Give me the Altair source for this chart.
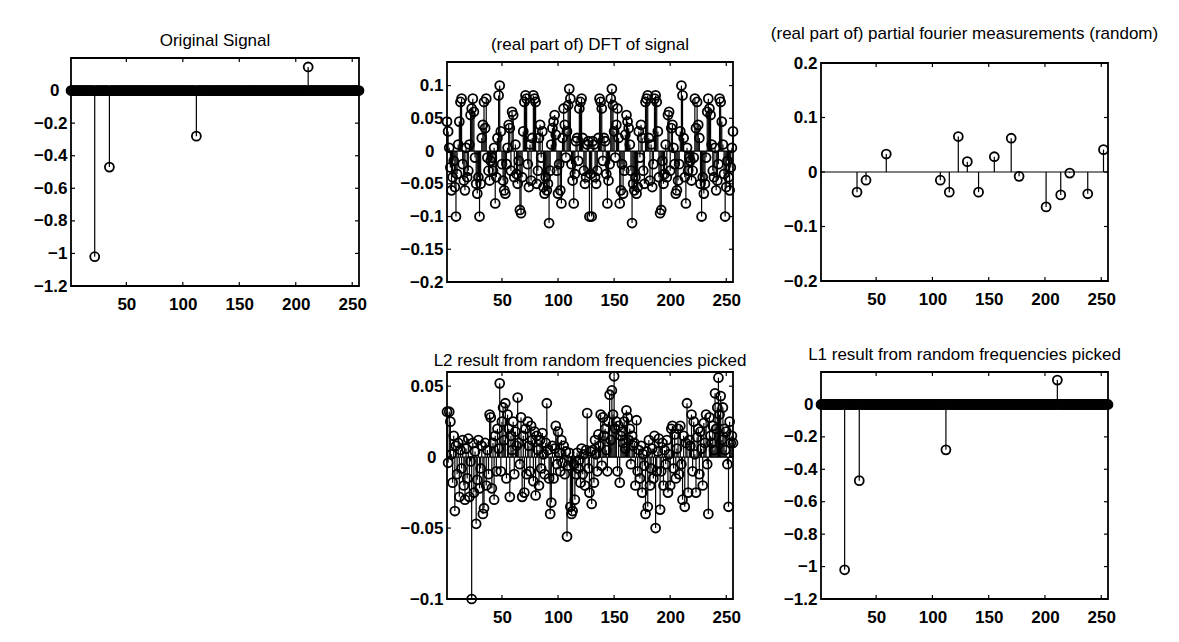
import altair as alt
import pandas as pd

# ---------------- data ----------------
x_ticks = [50, 100, 150, 200, 250]

# original signal / L1 recovery: sparse spikes, zero elsewhere (n = 1..256)
spike_pos = [22, 35, 112, 211]
orig_vals = [-1.02, -0.47, -0.28, 0.145]
l1_vals = [-1.02, -0.47, -0.28, 0.15]

# real part of DFT, x = 1..129
dft_first = [
    0.045, 0.03, 0.005, -0.025, -0.06, -0.04, -0.015, -0.055, -0.1, -0.035, 0.01, 0.045, 0.075, 0.08, -0.02, -0.045,
    -0.06, 0.005, -0.04, -0.03, 0.01, 0.055, 0.065, 0.08, 0.06, -0.01, -0.05, -0.065, -0.04, -0.1, -0.05, 0.02,
    0.04, 0.075, 0.035, 0.08, -0.01, -0.03, -0.045, -0.015, -0.01, -0.03, 0.005, -0.08, -0.04, 0.02, 0.085, 0.1,
    0.03, -0.02, -0.045, -0.06, -0.065, -0.02, 0.005, 0.04, 0.035, -0.03, 0.06, 0.055, -0.04, 0.01, -0.035, -0.05,
    -0.015, -0.09, -0.095, -0.04, 0.03, 0.075, 0.085, 0.08, -0.02, -0.055, 0.01, -0.045, 0.02, 0.085, 0.08, 0.075,
    -0.05, -0.03, 0.02, 0.04, -0.01, 0.03, -0.055, -0.065, -0.04, -0.06, -0.05, -0.11, -0.03, 0.01, 0.035, 0.045,
    0.055, 0.025, -0.03, -0.065, -0.02, -0.06, -0.08, 0.02, 0.065, 0.04, -0.01, 0.03, 0.07, 0.095, 0.08, -0.02,
    -0.045, -0.08, -0.035, 0.015, 0.02, -0.015, 0.065, 0.075, 0.08, 0.02, -0.03, -0.05, -0.04, 0.01, 0.015, -0.1,
    -0.035,
]
# real part of DFT, x = 130..256 (mirror image in the picture)
dft_second = [
    -0.1, 0.015, 0.01, -0.04, -0.05, -0.03, 0.02, 0.08, 0.075, 0.065, -0.015, 0.02, 0.015, -0.035, -0.08, -0.045,
    -0.02, 0.08, 0.095, 0.07, 0.03, -0.01, 0.04, 0.065, 0.02, -0.08, -0.06, -0.02, -0.065, -0.03, 0.025, 0.055,
    0.045, 0.035, 0.01, -0.03, -0.11, -0.05, -0.06, -0.04, -0.065, -0.055, 0.03, -0.01, 0.04, 0.02, -0.03, -0.05,
    0.075, 0.08, 0.085, 0.02, -0.045, 0.01, -0.055, -0.02, 0.08, 0.085, 0.075, 0.03, -0.04, -0.095, -0.09, -0.015,
    -0.05, -0.035, 0.01, -0.04, 0.055, 0.06, -0.03, 0.035, 0.04, 0.005, -0.02, -0.065, -0.06, -0.045, -0.02, 0.03,
    0.1, 0.085, 0.02, -0.04, -0.08, 0.005, -0.03, -0.01, -0.015, -0.045, -0.03, -0.01, 0.08, 0.035, 0.075, 0.04,
    0.02, -0.05, -0.1, -0.04, -0.065, -0.05, -0.01, 0.06, 0.08, 0.065, 0.055, 0.01, -0.03, -0.04, 0.005, -0.06,
    -0.045, -0.02, 0.08, 0.075, 0.045, 0.01, -0.035, -0.1, -0.055, -0.015, -0.04, -0.06, -0.025, 0.005, 0.03,
]

# partial fourier measurements (random frequencies)
meas_pos = [33, 41, 59, 107, 115, 123, 131, 141, 155, 170, 177, 201, 214, 222, 238, 252]
meas_vals = [-0.037, -0.015, 0.033, -0.015, -0.037, 0.065, 0.019, -0.037,
             0.028, 0.062, -0.008, -0.064, -0.042, -0.002, -0.040, 0.041]

# L2 result, x = 1..256
l2_vals = [
    0.032, -0.004, 0.032, 0.025, 0.002, -0.018, 0.015, -0.038, 0.008, -0.012, 0.01, -0.028, 0.005, -0.008, 0.012, -0.02,
    -0.03, 0.006, -0.015, 0.013, -0.028, -0.003, -0.1, 0.01, -0.025, 0.004, -0.047, -0.016, 0.012, -0.022, -0.008, 0.008,
    -0.04, -0.036, 0.01, -0.02, 0.005, -0.012, 0.03, 0.028, -0.022, 0.01, -0.03, 0.015, -0.01, 0.02, 0.006, 0.052,
    -0.01, 0.025, 0.035, 0.012, 0.038, -0.015, 0.03, 0.02, -0.028, 0.015, 0.005, 0.025, -0.012, 0.018, 0.008, 0.042,
    0.01, -0.005, 0.028, -0.028, 0.015, -0.025, 0.02, -0.012, 0.025, 0.008, -0.01, 0.022, 0.012, -0.017, 0.018, -0.027,
    0.015, 0.005, -0.02, 0.012, -0.008, 0.017, 0.002, -0.012, 0.01, 0.038, 0.005, -0.015, -0.04, -0.032, 0.008, -0.015,
    0.006, 0.022, -0.005, 0.018, 0.003, -0.01, 0.012, -0.004, 0.008, -0.012, 0.004, -0.056, -0.006, 0.003, -0.035, -0.04,
    -0.038, -0.005, -0.03, -0.012, 0.003, -0.008, -0.002, -0.018, 0.006, -0.012, 0.002, -0.02, 0.005, 0.031, -0.008, -0.025,
    0.004, -0.033, 0.005, -0.018, 0.012, 0.002, -0.01, 0.016, 0.008, 0.03, -0.006, 0.028, 0.015, 0.02, 0.005, -0.01,
    0.025, 0.044, 0.012, 0.047, 0.03, 0.057, 0.02, 0.025, -0.01, 0.022, -0.018, 0.015, 0.018, 0.01, 0.025, 0.006,
    0.033, 0.028, 0.012, 0.02, -0.005, 0.015, 0.008, 0.01, -0.02, 0.026, -0.01, 0.005, -0.015, 0.008, -0.025, 0.002,
    -0.006, -0.04, 0.004, -0.035, 0.012, -0.02, -0.008, 0.006, -0.015, 0.015, -0.05, -0.01, 0.004, 0.013, -0.037, -0.01,
    0.01, -0.02, 0.005, -0.005, 0.012, -0.025, 0.002, -0.02, 0.02, 0.022, -0.008, 0.016, -0.015, 0.006, 0.02, -0.012,
    0.022, -0.005, -0.03, 0.015, -0.035, 0.01, 0.038, -0.025, 0.012, 0.008, 0.03, -0.01, 0.025, 0.002, -0.025, 0.014,
    0.02, -0.012, 0.018, 0.006, -0.02, 0.024, 0.01, 0.03, -0.005, -0.04, 0.028, 0.015, 0.01, 0.022, 0.005, 0.045,
    0.02, 0.035, 0.056, 0.03, 0.043, 0.012, 0.035, 0.02, 0.005, 0.018, -0.005, -0.035, 0.025, 0.01, 0.015, 0.01,
]

# ---------------- tables ----------------
def spikes_table(pos, vals):
    v = [0.0] * 256
    for p, val in zip(pos, vals):
        v[p - 1] = val
    return pd.DataFrame({"x": list(range(1, 257)), "v": v})


def series_table(vals):
    return pd.DataFrame({"x": list(range(1, len(vals) + 1)), "v": vals})


df_orig = spikes_table(spike_pos, orig_vals)
df_l1 = spikes_table(spike_pos, l1_vals)
df_dft = series_table(dft_first + dft_second)
df_meas = pd.DataFrame({"x": meas_pos, "v": meas_vals})
df_l2 = series_table(l2_vals)

FONT = "Liberation Sans"


def panel(df, title, ydom, yticks, w, h, toff, zero_pad):
    xs = alt.Scale(domain=[1, 256], nice=False, zero=False)
    ys = alt.Scale(domain=ydom, nice=False, zero=False)
    xa = alt.Axis(values=x_ticks, format="d", title=None)
    ya = alt.Axis(
        values=yticks, format="~g", title=None,
        labelPadding={"condition": {"test": "datum.value == 0", "value": 4 + zero_pad}, "value": 4},
    )

    def X(f):
        return alt.X(f, type="quantitative", scale=xs, axis=xa, title=None)

    def Y(f):
        return alt.Y(f, type="quantitative", scale=ys, axis=ya, title=None)

    base = alt.Chart(df)
    stems = base.mark_rule(color="black", strokeWidth=1.2).encode(x=X("x"), y=Y("v"), y2=alt.datum(0))
    zero = alt.Chart(pd.DataFrame({"v": [0.0]})).mark_rule(color="black", strokeWidth=1.2).encode(y=Y("v"))
    pts = base.mark_point(shape="circle", filled=False, color="black", size=80,
                          strokeWidth=1.8, opacity=1).encode(x=X("x"), y=Y("v"))
    xt = alt.Chart(pd.DataFrame({"x": x_ticks}))
    yt = alt.Chart(pd.DataFrame({"v": yticks}))
    tk = dict(color="black", strokeWidth=1.2)
    t_bottom = xt.mark_rule(**tk).encode(x=X("x"), y=alt.value(h), y2=alt.value(h - 4))
    t_top = xt.mark_rule(**tk).encode(x=X("x"), y=alt.value(0), y2=alt.value(4))
    t_left = yt.mark_rule(**tk).encode(y=Y("v"), x=alt.value(0), x2=alt.value(4))
    t_right = yt.mark_rule(**tk).encode(y=Y("v"), x=alt.value(w), x2=alt.value(w - 4))

    return alt.layer(stems, zero, t_bottom, t_top, t_left, t_right, pts).properties(
        width=w, height=h,
        title=alt.TitleParams(text=title, offset=toff),
    )


p1 = panel(df_orig, "Original Signal", [-1.2, 0.2],
           [0, -0.2, -0.4, -0.6, -0.8, -1, -1.2], 288, 228, 7, 8)
p2 = panel(df_dft, "(real part of) DFT of signal", [-0.2, 0.136],
           [0.1, 0.05, 0, -0.05, -0.1, -0.15, -0.2], 286, 220, 7, 9)
p3 = panel(df_meas, "(real part of) partial fourier measurements (random)", [-0.2, 0.2],
           [0.2, 0.1, 0, -0.1, -0.2], 287, 218, 11, 0)
p4 = panel(df_l2, "L2 result from random frequencies picked", [-0.1, 0.06],
           [0.05, 0, -0.05, -0.1], 286, 227, -2, 7)
p5 = panel(df_l1, "L1 result from random frequencies picked", [-1.2, 0.2],
           [0, -0.2, -0.4, -0.6, -0.8, -1, -1.2], 287, 227, 7, 4)

blank = alt.Chart(pd.DataFrame({"a": [0]})).mark_point(opacity=0).encode(
    x=alt.value(0), y=alt.value(0)
).properties(width=288, height=227, view=alt.ViewBackground(strokeOpacity=0))

chart = alt.concat(
    p1, p2, p3, blank, p4, p5,
    columns=3,
    spacing=alt.RowColnumber(row=86, column=88),
    bounds="flush",
    center=True,
).properties(
    padding={"left": 24, "top": 16, "right": 10, "bottom": 10},
    background="white",
).configure_view(
    stroke="black", strokeWidth=1.8
).configure_axis(
    labelFont=FONT, labelFontSize=17, labelFontWeight="bold", labelColor="black",
    ticks=False, domain=False, grid=False,
).configure_axisX(labelPadding=10).configure_title(
    font=FONT, fontSize=17, fontWeight="normal", color="black", anchor="middle"
)

chart.save("out.html", embed_options={"renderer": "svg", "actions": False})
